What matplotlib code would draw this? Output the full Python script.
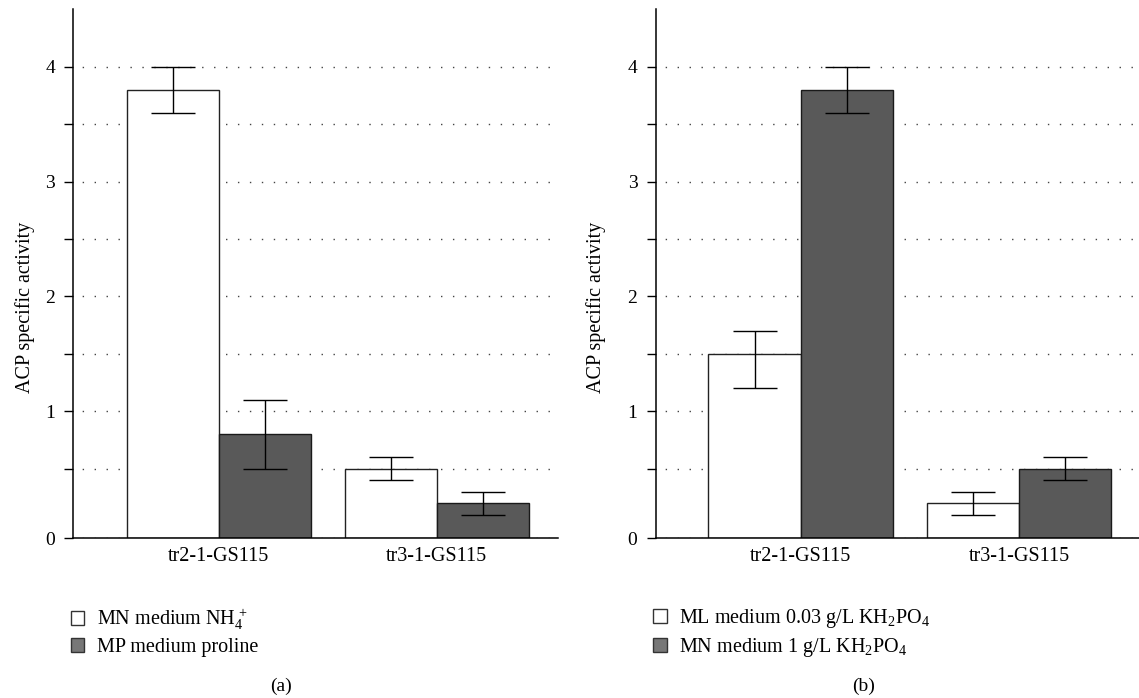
import matplotlib
matplotlib.use("Agg")
import matplotlib.pyplot as plt
from matplotlib.patches import Patch
import numpy as np

plt.rcParams['font.family'] = 'Liberation Serif'
plt.rcParams['mathtext.fontset'] = 'custom'
plt.rcParams['mathtext.rm'] = 'Liberation Serif'
plt.rcParams['mathtext.it'] = 'Liberation Serif:italic'

# dati
strains = ['tr2-1-GS115', 'tr3-1-GS115']

a_white = [3.8, 0.5]
a_white_err = [0.2, 0.1]
a_dark = [0.8, 0.2]
a_dark_err = [0.3, 0.1]
a_labels = ['MN medium NH$_4^{\\,+}$', 'MP medium proline']

b_white = [1.5, 0.2]
b_white_err_low = [0.3, 0.1]
b_white_err_high = [0.2, 0.1]
b_dark = [3.8, 0.5]
b_dark_err = [0.2, 0.1]
b_labels = ['ML medium 0.03 g/L KH$_2$PO$_4$', 'MN medium 1 g/L KH$_2$PO$_4$']

y_ticks = [0.5, 1, 1.5, 2, 2.5, 3, 3.5, 4]
y_base = -0.105   # l'asse parte un po' sotto lo zero
W, H = 1139, 698

fig = plt.figure(figsize=(W / 100, H / 100), dpi=100)
ax1 = fig.add_axes([73.3 / W, 1 - 538.3 / H, (558 - 73.3) / W, 529 / H])
ax2 = fig.add_axes([655.7 / W, 1 - 538.3 / H, (W - 655.7) / W, 529 / H])

dark = '#595959'
bw = 0.422
x = np.arange(len(strains))


def draw(ax, white, werr, darkv, derr, xlim, lab_x):
    white = np.array(white)
    darkv = np.array(darkv)
    ax.bar(x - bw / 2, white - y_base, bw, bottom=y_base, color='white',
           edgecolor='#222222', linewidth=1.0, zorder=2)
    ax.bar(x + bw / 2, darkv - y_base, bw, bottom=y_base, color=dark,
           edgecolor='#1a1a1a', linewidth=1.0, zorder=2)
    ax.errorbar(x - bw / 2, white, yerr=werr, fmt='none', ecolor='black',
                elinewidth=1.0, capsize=16, capthick=1.0, zorder=3)
    ax.errorbar(x + bw / 2, darkv, yerr=derr, fmt='none', ecolor='black',
                elinewidth=1.0, capsize=16, capthick=1.0, zorder=3)
    ax.set_xlim(*xlim)
    ax.set_ylim(y_base, 4.5)
    ax.set_yticks([y_base] + y_ticks)
    ax.set_yticklabels(['0', '', '1', '', '2', '', '3', '', '4'])
    ax.set_xticks(x)
    ax.set_xticklabels(strains, fontsize=14.5)
    ax.tick_params(axis='y', direction='out', length=6.7, width=1.0,
                   pad=6.5, labelsize=14)
    ax.tick_params(axis='x', length=0, pad=6)
    ax.spines['top'].set_visible(False)
    ax.spines['right'].set_visible(False)
    ax.spines['left'].set_linewidth(1.1)
    ax.spines['bottom'].set_linewidth(1.1)
    ax.yaxis.grid(True, linestyle=(2, (1, 7.6)), color='#444444', linewidth=1.0)
    ax.set_axisbelow(True)
    ax.set_ylabel('ACP specific activity', fontsize=14.5)
    ax.yaxis.set_label_coords(lab_x, 0.437)


draw(ax1, a_white, a_white_err, a_dark, a_dark_err, (-0.667, 1.556), -0.080)
draw(ax2, b_white, [b_white_err_low, b_white_err_high], b_dark, b_dark_err,
     (-0.663, 1.548), -0.102)

# legende
for labels, lx in [(a_labels, 70.7), (b_labels, 653.3)]:
    handles = [Patch(facecolor='white', edgecolor='#333333', linewidth=1.0),
               Patch(facecolor='#777777', edgecolor='#333333', linewidth=1.0)]
    fig.legend(handles, labels, loc='upper left',
               bbox_to_anchor=(lx / W, 1 - 607 / H), frameon=False,
               fontsize=14.5, handlelength=0.68, handleheight=0.68,
               handletextpad=0.62, borderpad=0, borderaxespad=0,
               labelspacing=0.3)

fig.text(281 / W, 1 - 686 / H, '(a)', ha='center', va='center', fontsize=14)
fig.text(864 / W, 1 - 686 / H, '(b)', ha='center', va='center', fontsize=14)

fig.savefig('out.png', dpi=100)
